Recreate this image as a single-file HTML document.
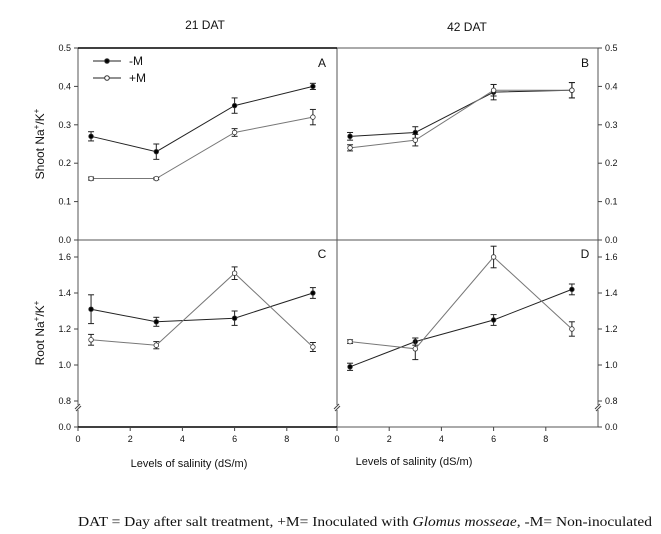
<!DOCTYPE html>
<html><head><meta charset="utf-8"><style>
body{margin:0;background:#fff;width:661px;height:529px;overflow:hidden}
svg text{font-family:"Liberation Sans",sans-serif;fill:#111}
</style></head><body>
<svg id="c" width="661" height="529" viewBox="0 0 661 529">
<text x="205" y="29" font-size="12" text-anchor="middle">21 DAT</text>
<text x="467" y="31" font-size="12" text-anchor="middle">42 DAT</text>
<text x="189" y="467" font-size="11" text-anchor="middle">Levels of salinity (dS/m)</text>
<text x="414" y="465" font-size="11" text-anchor="middle">Levels of salinity (dS/m)</text>
<text x="78" y="526" font-size="13.5" textLength="574" lengthAdjust="spacingAndGlyphs" style="font-family:'Liberation Serif',serif">DAT = Day after salt treatment, +M= Inoculated with <tspan font-style="italic">Glomus mosseae</tspan>, -M= Non-inoculated</text>
<text transform="translate(44,144) rotate(-90)" font-size="12" text-anchor="middle">Shoot Na<tspan font-size="8" dy="-5">+</tspan><tspan dy="5">/K</tspan><tspan font-size="8" dy="-5">+</tspan></text>
<text transform="translate(44,333) rotate(-90)" font-size="12" text-anchor="middle">Root Na<tspan font-size="8" dy="-5">+</tspan><tspan dy="5">/K</tspan><tspan font-size="8" dy="-5">+</tspan></text>
</svg>
<script>
const xs=[0.5,3,6,9];
const aMinus=[0.27,0.23,0.35,0.40], aMinusErr=[0.012,0.02,0.02,0.008];
const aPlus=[0.16,0.16,0.28,0.32], aPlusErr=[0.004,0.003,0.01,0.02];
const bMinus=[0.27,0.28,0.385,0.39], bMinusErr=[0.01,0.015,0.02,0.02];
const bPlus=[0.24,0.26,0.39,0.39], bPlusErr=[0.008,0.015,0.015,0.02];
const cMinus=[1.31,1.24,1.26,1.40], cMinusErr=[0.08,0.025,0.04,0.03];
const cPlus=[1.14,1.11,1.51,1.10], cPlusErr=[0.03,0.02,0.035,0.025];
const dMinus=[0.99,1.13,1.25,1.42], dMinusErr=[0.02,0.02,0.03,0.03];
const dPlus=[1.13,1.09,1.60,1.20], dPlusErr=[0.01,0.06,0.06,0.04];
const topTicks=[0,0.1,0.2,0.3,0.4,0.5];
const botTicks=[0.8,1.0,1.2,1.4,1.6];
const xTicks=[0,2,4,6,8];
const S=document.getElementById('c'),NS='http://www.w3.org/2000/svg';
function el(t,a,p){const e=document.createElementNS(NS,t);for(const k in a)e.setAttribute(k,a[k]);(p||S).appendChild(e);return e;}
const xL=v=>78+v*26.1, xR=v=>337+v*26.1;
const yTop=v=>240-v*384;
const yBot=v=>v<=0.8?427-v*32.5:401-(v-0.8)*180;
function txt(x,y,s,anchor,name){const t=el('text',{x:x,y:y,'font-size':9,'text-anchor':anchor});t.textContent=s;

}
[[78,48,337,240],[337,48,598,240],[78,240,337,427],[337,240,598,427]].forEach((r,i)=>{
const f=el('rect',{x:r[0],y:r[1],width:r[2]-r[0],height:r[3]-r[1],fill:'none',stroke:'#555','stroke-width':1});

});
el('line',{x1:78,y1:48,x2:337,y2:48,stroke:'#000','stroke-width':1.5});
el('line',{x1:78,y1:427,x2:337,y2:427,stroke:'#000','stroke-width':1.5});
topTicks.forEach(v=>{const y=yTop(v);
el('line',{x1:74,y1:y,x2:78,y2:y,stroke:'#444'});txt(71,y+3,v.toFixed(1),'end','y-tick-left-top');
el('line',{x1:598,y1:y,x2:602,y2:y,stroke:'#444'});txt(605,y+3,v.toFixed(1),'start','y-tick-right-top');});
botTicks.concat([0]).forEach(v=>{const y=yBot(v);
el('line',{x1:74,y1:y,x2:78,y2:y,stroke:'#444'});txt(71,y+3,v.toFixed(1),'end','y-tick-left-bottom');
el('line',{x1:598,y1:y,x2:602,y2:y,stroke:'#444'});txt(605,y+3,v.toFixed(1),'start','y-tick-right-bottom');});
[[78,408],[337,408],[598,408]].forEach(p=>{el('rect',{x:p[0]-3,y:p[1]-3,width:6,height:5,fill:'#fff'});
el('line',{x1:p[0]-3,y1:p[1]+1,x2:p[0]+2,y2:p[1]-4,stroke:'#444'});el('line',{x1:p[0]-2,y1:p[1]+3,x2:p[0]+3,y2:p[1]-2,stroke:'#444'});});
xTicks.forEach(v=>{[xL,xR].forEach((f,i)=>{const x=f(v);el('line',{x1:x,y1:427,x2:x,y2:431,stroke:'#444'});txt(x,442,String(v),'middle','x-tick');});});
function series(fx,fy,vals,errs,filled,name){
const pts=xs.map((x,i)=>fx(x)+','+fy(vals[i])).join(' ');
const l=el('polyline',{points:pts,fill:'none',stroke:filled?'#222':'#777','stroke-width':1});


xs.forEach((x,i)=>{const cx=fx(x),y1=fy(vals[i]+errs[i]),y2=fy(vals[i]-errs[i]);
el('line',{x1:cx,y1:y1,x2:cx,y2:y2,stroke:'#222'});el('line',{x1:cx-3,y1:y1,x2:cx+3,y2:y1,stroke:'#222'});el('line',{x1:cx-3,y1:y2,x2:cx+3,y2:y2,stroke:'#222'});
const m=el('circle',{cx:cx,cy:fy(vals[i]),r:2.3,fill:filled?'#000':'#fff',stroke:'#333','stroke-width':0.8});

});}
series(xL,yTop,aMinus,aMinusErr,true,'a-minus-m');series(xL,yTop,aPlus,aPlusErr,false,'a-plus-m');
series(xR,yTop,bMinus,bMinusErr,true,'b-minus-m');series(xR,yTop,bPlus,bPlusErr,false,'b-plus-m');
series(xL,yBot,cMinus,cMinusErr,true,'c-minus-m');series(xL,yBot,cPlus,cPlusErr,false,'c-plus-m');
series(xR,yBot,dMinus,dMinusErr,true,'d-minus-m');series(xR,yBot,dPlus,dPlusErr,false,'d-plus-m');
[['A',322,67],['B',585,67],['C',322,258],['D',585,258]].forEach(p=>{const t=el('text',{x:p[1],y:p[2],'font-size':12,'text-anchor':'middle'});t.textContent=p[0];

});
[['-M',true,61],['+M',false,78]].forEach(l=>{el('line',{x1:93,y1:l[2],x2:121,y2:l[2],stroke:'#222'});
el('circle',{cx:107,cy:l[2],r:2.3,fill:l[1]?'#000':'#fff',stroke:'#333'});
const t=el('text',{x:129,y:l[2]+4,'font-size':12});t.textContent=l[0];

});
</script>
</body></html>
